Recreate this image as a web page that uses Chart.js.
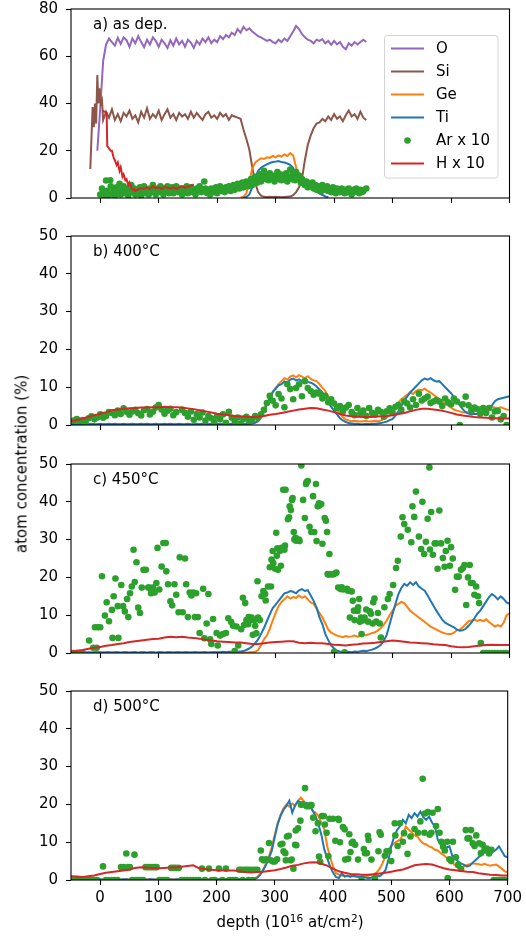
<!DOCTYPE html>
<html lang="en">
<head>
<meta charset="UTF-8">
<title>Depth profiles</title>
<script src="https://cdn.jsdelivr.net/npm/chart.js@4"></script>
<style>
  body { margin: 0; background: #fff; }
  #fig { position: relative; width: 526px; height: 938px; font-family: "DejaVu Sans", sans-serif; color: #000; overflow: hidden; }
  #fig canvas { position: absolute; left: 0; }
  .lbl { position: absolute; font-size: 15px; white-space: nowrap; line-height: 1; }
  .lbl sup { font-size: 70%; vertical-align: 0.45em; line-height: 0; }
  #ylab { left: 22px; top: 464px; transform: translate(-50%, -50%) rotate(-90deg); }
  #xlab { left: 290px; top: 922px; transform: translate(-50%, -50%); }
</style>
</head>
<body>
<div id="fig">
  <canvas id="panelA" width="526" height="229"></canvas>
  <canvas id="panelB" width="526" height="229"></canvas>
  <canvas id="panelC" width="526" height="229"></canvas>
  <canvas id="panelD" width="526" height="249"></canvas>
  <div class="lbl" id="ylab">atom concentration (%)</div>
  <div class="lbl" id="xlab">depth (10<sup>16</sup> at/cm<sup>2</sup>)</div>
</div>

<script>
// axis ticks
const xTicks = [0, 100, 200, 300, 400, 500, 600, 700];
const yTicksA = [0, 20, 40, 60, 80];
const yTicksB = [0, 10, 20, 30, 40, 50];

// ---- a) as deposited ----
// O on a 5-unit grid starting at depth -5
const oA = [
  20, 38, 58, 65, 67.5, 66.0, 64.5, 67.8, 65.2, 68.0,
  66.8, 64.0, 67.5, 65.5, 68.5, 66.0, 63.8, 67.0, 65.0, 68.0,
  66.5, 64.0, 67.0, 65.5, 63.5, 66.8, 64.5, 67.5, 65.0, 66.5,
  64.0, 67.0, 65.8, 63.5, 66.5, 65.0, 67.5, 66.0, 68.0, 65.5,
  67.0, 66.0, 68.5, 67.2, 69.0, 68.0, 70.0, 69.0, 71.5, 70.0,
  72.5, 71.0, 71.8, 70.5, 69.5, 68.5, 68.0, 67.2, 66.5, 67.0,
  66.0, 65.5, 67.0, 66.0, 67.5, 66.5, 68.5, 70.5, 72.8, 71.5,
  69.5, 68.0, 67.0, 66.5, 65.5, 67.0, 66.5, 67.2, 65.5, 66.5,
  64.8, 66.5, 65.0, 66.0, 64.0, 63.0, 65.5, 64.5, 66.0, 65.0,
  66.0, 67.0, 66.0
];
// Si: first points near the surface, then a 5-unit grid from depth 10
const siStartA = [[-17, 12.3], [-13, 38.5], [-11, 30], [-9, 40], [-7, 31.5], [-5, 52], [-3, 40], [-1, 46.4], [1, 40], [3, 41.4], [5, 33]];
const siA = [
  36.5, 34.0, 37.5, 33.0, 35.5, 32.5, 36.0, 34.5, 37.0, 33.5,
  35.0, 32.0, 36.5, 34.0, 38.0, 33.5, 35.5, 34.0, 37.0, 33.0,
  35.5, 37.5, 34.0, 35.5, 33.0, 36.0, 34.5, 35.5, 33.5, 36.5,
  34.0, 36.0, 34.5, 33.0, 35.5, 36.5, 34.0, 35.0, 33.5, 36.0,
  34.5, 35.5, 33.0, 35.0, 34.5, 34.0, 33.5, 29.0, 25.0, 20.5,
  13.0, 6.5, 2.5, 1.0, 0.5, 0.4, 0.5, 0.4, 0.5, 0.4,
  0.3, 0.4, 0.5, 0.6, 1.2, 2.5, 4.5, 8.0, 16.0, 22.5,
  26.5, 29.5, 31.5, 32.0, 33.5, 32.5, 34.5, 33.0, 35.5, 33.5,
  34.5, 32.5, 35.0, 37.0, 34.5, 35.5, 33.5, 36.5, 34.0, 33.0
];
// Ge from depth 240, Ti from depth 245 (5-unit grid)
const geA = [
  0.2, 0.6, 2.0, 7.0, 12.5, 15.0, 16.0, 16.8, 16.5, 17.2,
  17.0, 17.8, 17.2, 18.0, 17.5, 18.4, 17.8, 19.0, 18.0, 13.0,
  8.0, 6.5, 5.5, 4.8, 4.0, 3.4, 2.8, 2.0, 1.3, 0.6,
  0.2
];
const tiA = [
  0.2, 0.4, 1.5, 4.5, 8.5, 11.5, 12.8, 13.6, 14.2, 14.8,
  15.2, 15.4, 15.6, 15.2, 15.0, 14.6, 14.0, 12.8, 10.0, 7.5,
  6.5, 5.8, 5.0, 4.2, 3.5, 2.8, 2.0, 1.3, 0.7, 0.3
];
const arA = [
  [0, 1.5], [3, 4.0], [5, 2.5], [8, 0.8], [10, 7.4], [12, 3.0], [15, 1.2], [17, 7.5], [18, 5.0], [20, 2.0],
  [23, 3.5], [25, 0.8], [28, 4.5], [30, 2.5], [33, 6.0], [35, 1.5], [38, 3.5], [40, 5.0], [43, 2.0], [45, 4.0],
  [48, 1.0], [50, 3.0], [53, 5.5], [55, 2.5], [58, 4.0], [60, 1.5], [63, 3.5], [65, 2.0], [68, 4.5], [70, 1.0],
  [73, 3.0], [75, 5.0], [78, 2.0], [80, 3.5], [83, 1.5], [85, 4.0], [88, 2.5], [90, 5.5], [93, 3.0], [95, 1.5],
  [98, 4.0], [100, 2.5], [103, 5.0], [105, 3.5], [108, 1.5], [110, 4.0], [113, 3.0], [115, 5.0], [118, 2.0], [120, 3.5],
  [123, 4.5], [125, 2.0], [128, 3.5], [130, 5.0], [133, 2.5], [135, 4.0], [138, 3.0], [140, 1.5], [143, 4.0], [145, 3.0],
  [148, 5.0], [150, 2.0], [153, 3.5], [155, 4.5], [158, 2.5], [160, 3.5], [163, 1.5], [165, 4.0], [168, 3.0], [170, 5.0],
  [173, 2.5], [175, 3.5], [178, 7.0], [180, 4.0], [183, 2.0], [185, 3.5], [188, 1.5], [190, 4.0], [193, 2.5], [195, 3.0],
  [198, 4.5], [200, 2.0], [203, 3.5], [205, 5.0], [208, 3.0], [210, 4.0], [213, 2.5], [215, 4.5], [218, 3.5], [220, 5.0],
  [223, 3.0], [225, 4.0], [228, 5.5], [230, 3.5], [233, 4.5], [235, 6.0], [238, 4.0], [240, 5.0], [243, 6.5], [245, 4.5],
  [248, 5.5], [250, 7.0], [253, 5.0], [255, 6.0], [258, 8.0], [260, 5.5], [263, 7.0], [265, 9.0], [268, 6.5], [270, 8.0],
  [273, 10.0], [275, 7.0], [278, 9.0], [280, 11.5], [283, 8.0], [285, 9.5], [288, 7.5], [290, 10.5], [293, 8.5], [295, 9.5],
  [298, 7.0], [300, 9.0], [303, 11.0], [305, 8.0], [308, 10.0], [310, 7.5], [313, 9.5], [315, 8.5], [318, 10.5], [320, 7.0],
  [323, 9.0], [325, 12.0], [328, 8.0], [330, 10.0], [333, 7.5], [335, 11.0], [338, 8.5], [340, 9.5], [343, 6.5], [345, 8.0],
  [348, 7.0], [350, 5.5], [353, 7.0], [355, 4.5], [358, 6.0], [360, 5.0], [363, 6.5], [365, 4.0], [368, 5.5], [370, 3.5],
  [373, 5.0], [375, 4.5], [378, 3.0], [380, 5.5], [383, 4.0], [385, 3.5], [388, 5.0], [390, 3.0], [393, 4.0], [395, 2.5],
  [398, 4.5], [400, 3.5], [403, 2.0], [405, 4.0], [408, 3.0], [410, 2.5], [413, 4.0], [415, 3.5], [418, 2.0], [420, 3.5],
  [423, 2.5], [425, 4.0], [428, 3.0], [430, 1.5], [433, 3.5], [435, 2.5], [438, 4.0], [440, 3.0], [443, 2.0], [445, 3.5],
  [448, 2.5], [450, 3.0], [455, 4.0]
];
const hA = [
  [4, 37], [8, 36.5], [11, 36], [12, 22], [15, 21], [18, 20], [20, 20], [23, 17], [25, 16], [28, 14],
  [30, 15], [33, 11.5], [35, 13], [38, 9], [40, 10], [43, 7.5], [45, 8], [48, 5.5], [50, 6.5], [53, 4.5],
  [55, 3.5], [58, 3.8], [60, 3.0], [65, 3.6], [70, 4.2], [75, 3.8], [80, 4.6], [85, 3.9], [90, 5.0], [95, 4.2],
  [100, 4.5], [105, 3.8], [110, 4.8], [115, 4.3], [120, 4.0], [125, 4.6], [130, 3.8], [135, 4.5], [140, 5.0], [145, 4.4],
  [150, 4.8], [155, 5.2], [160, 5.8]
];

// ---- b) 400°C ---- Ti / Ge on a 5-unit grid from -50, H on a 10-unit grid from -50
const tiB = [
  0.2, 0.3, 0.2, 0.2, 0.3, 0.2, 0.2, 0.3, 0.2, 0.2,
  0.3, 0.2, 0.2, 0.3, 0.2, 0.3, 0.2, 0.2, 0.3, 0.2,
  0.2, 0.3, 0.2, 0.2, 0.3, 0.2, 0.3, 0.2, 0.2, 0.3,
  0.2, 0.2, 0.3, 0.2, 0.3, 0.2, 0.2, 0.3, 0.2, 0.2,
  0.3, 0.2, 0.2, 0.3, 0.2, 0.3, 0.3, 0.2, 0.3, 0.2,
  0.3, 0.2, 0.3, 0.3, 0.2, 0.3, 0.4, 0.3, 0.4, 0.3,
  0.3, 0.3, 0.4, 0.6, 1.0, 2.0, 3.5, 5.5, 7.2, 8.8,
  9.6, 10.5, 10.8, 11.5, 11.2, 12.0, 12.3, 11.8, 12.1, 11.6,
  12.0, 11.4, 11.2, 10.8, 10.2, 9.4, 8.6, 7.5, 6.0, 4.8,
  3.8, 2.8, 1.8, 1.2, 0.8, 0.5, 0.4, 0.3, 0.3, 0.2,
  0.2, 0.3, 0.2, 0.3, 0.3, 0.4, 0.5, 0.7, 0.9, 1.3,
  1.6, 2.5, 3.6, 5.0, 6.5, 7.5, 8.6, 9.4, 10.2, 11.0,
  11.8, 12.3, 12.0, 12.4, 11.8, 11.5, 11.6, 10.8, 10.0, 9.2,
  8.4, 7.4, 6.3, 5.2, 4.2, 3.4, 3.0, 2.8, 3.0, 2.9,
  3.1, 3.0, 3.4, 4.2, 5.2, 6.3, 6.8, 7.0, 7.2, 7.4,
  7.6
];
const geB = [
  0.1, 0.2, 0.1, 0.2, 0.2, 0.1, 0.2, 0.1, 0.2, 0.2,
  0.1, 0.2, 0.2, 0.1, 0.2, 0.2, 0.1, 0.2, 0.2, 0.1,
  0.2, 0.1, 0.2, 0.2, 0.1, 0.2, 0.2, 0.1, 0.2, 0.2,
  0.1, 0.2, 0.2, 0.1, 0.2, 0.1, 0.2, 0.2, 0.1, 0.2,
  0.2, 0.1, 0.2, 0.2, 0.1, 0.2, 0.2, 0.1, 0.2, 0.2,
  0.2, 0.2, 0.1, 0.2, 0.2, 0.3, 0.2, 0.3, 0.3, 0.2,
  0.3, 0.3, 0.5, 0.8, 1.4, 2.6, 4.2, 5.8, 7.0, 8.6,
  9.8, 10.8, 11.6, 12.4, 12.0, 12.8, 13.1, 12.6, 13.2, 12.8,
  12.4, 12.9, 12.2, 11.8, 11.6, 10.8, 9.8, 9.0, 7.4, 6.2,
  5.3, 4.2, 3.0, 2.0, 1.5, 1.2, 1.0, 1.1, 1.0, 0.9,
  1.0, 1.1, 0.9, 1.0, 1.1, 1.0, 1.2, 1.6, 2.0, 2.6,
  3.6, 4.8, 6.0, 6.8, 7.4, 8.0, 8.6, 8.2, 9.0, 9.4,
  9.2, 9.6, 9.0, 8.6, 8.0, 7.4, 6.8, 6.2, 5.6, 5.1,
  4.6, 4.1, 3.8, 3.6, 3.4, 3.3, 3.4, 3.2, 3.6, 4.0,
  4.3, 4.5, 4.7, 4.4, 4.8, 4.6, 4.5, 4.7, 4.4, 4.1,
  4.0
];
const hB = [
  1.0, 1.3, 1.7, 2.1, 2.6, 3.0, 3.4, 3.9, 4.1, 4.3,
  4.4, 4.5, 4.6, 4.6, 4.7, 4.7, 4.8, 4.7, 4.7, 4.6,
  4.4, 4.2, 3.9, 3.6, 3.3, 3.0, 2.8, 2.6, 2.4, 2.3,
  2.2, 2.1, 2.2, 2.4, 2.7, 2.9, 3.2, 3.5, 3.8, 4.1,
  4.3, 4.5, 4.4, 4.1, 3.8, 3.4, 2.9, 2.5, 2.3, 2.2,
  2.1, 2.1, 2.2, 2.3, 2.4, 2.6, 2.9, 3.2, 3.6, 4.0,
  4.3, 4.3, 4.1, 3.9, 3.6, 3.2, 2.8, 2.5, 2.3, 2.1,
  2.0, 1.9, 1.8, 1.8, 1.7, 1.7
];
const arB = [
  [-45, 1.2], [-40, 1.6], [-35, 1.0], [-30, 1.3], [-25, 0.8], [-20, 1.8], [-15, 2.3], [-10, 1.5], [-5, 2.0], [0, 2.8],
  [5, 1.9], [10, 2.4], [15, 3.4], [20, 3.2], [25, 2.6], [30, 3.8], [35, 2.9], [40, 4.4], [45, 3.5], [50, 2.7],
  [55, 3.6], [60, 4.0], [65, 3.1], [70, 2.5], [75, 3.9], [80, 4.2], [85, 2.8], [90, 3.5], [95, 4.6], [100, 5.3],
  [105, 4.1], [110, 3.0], [115, 3.8], [120, 4.3], [125, 2.6], [130, 3.4], [140, 4.0], [145, 3.2], [150, 2.2], [155, 3.6],
  [160, 1.4], [165, 2.9], [170, 2.0], [175, 3.3], [180, 1.2], [185, 2.4], [190, 1.8], [195, 0.8], [200, 2.3], [205, 1.5],
  [210, 2.8], [215, 0.6], [220, 3.5], [225, 1.9], [230, 1.1], [235, 2.0], [240, 0.4], [245, 1.6], [250, 2.2], [255, 1.0],
  [260, 1.6], [265, 2.4], [270, 2.0], [275, 2.8], [280, 4.0], [285, 5.8], [290, 7.7], [295, 6.4], [300, 5.2], [305, 8.2],
  [310, 7.0], [315, 4.7], [320, 10.8], [325, 9.5], [330, 6.8], [335, 9.8], [340, 10.8], [345, 7.6], [350, 11.6], [355, 9.8],
  [360, 9.0], [365, 8.0], [370, 8.6], [375, 8.3], [380, 7.0], [385, 7.7], [390, 6.0], [395, 6.8], [400, 5.7], [405, 4.4],
  [410, 5.0], [415, 3.6], [420, 4.6], [425, 5.3], [430, 3.4], [435, 2.6], [440, 4.5], [445, 3.0], [450, 3.8], [455, 2.4],
  [460, 4.5], [465, 3.2], [470, 2.8], [475, 4.0], [480, 3.5], [485, 2.2], [490, 3.6], [495, 4.4], [500, 3.3], [505, 4.8],
  [510, 5.3], [515, 4.0], [520, 6.2], [525, 5.7], [530, 4.6], [535, 6.8], [540, 5.3], [545, 8.3], [550, 6.5], [555, 7.0],
  [560, 7.5], [565, 5.8], [570, 6.2], [575, 6.6], [580, 6.2], [585, 5.0], [590, 7.0], [595, 6.0], [600, 5.5], [605, 7.0],
  [610, 6.2], [615, 0.0], [620, 5.5], [625, 7.5], [630, 5.2], [635, 3.9], [640, 4.6], [645, 4.2], [650, 3.0], [655, 4.5],
  [660, 3.2], [665, 4.5], [670, 2.0], [675, 3.6], [680, 3.7], [685, 1.5], [690, 2.4], [695, 0.0]
];

// ---- c) 450°C ----
const tiC = [
  0.1, 0.2, 0.1, 0.2, 0.2, 0.1, 0.2, 0.1, 0.2, 0.2,
  0.2, 0.1, 0.2, 0.2, 0.1, 0.2, 0.2, 0.1, 0.2, 0.2,
  0.1, 0.2, 0.2, 0.1, 0.2, 0.2, 0.1, 0.2, 0.2, 0.1,
  0.2, 0.2, 0.1, 0.2, 0.2, 0.1, 0.2, 0.2, 0.1, 0.2,
  0.2, 0.1, 0.2, 0.2, 0.1, 0.2, 0.2, 0.1, 0.2, 0.2,
  0.2, 0.2, 0.3, 0.2, 0.3, 0.3, 0.4, 0.3, 0.4, 0.5,
  0.8, 1.2, 1.8, 2.6, 3.6, 5.0, 6.6, 8.4, 10.2, 11.9,
  12.8, 13.8, 14.8, 15.8, 16.0, 16.4, 16.2, 15.8, 16.6, 16.9,
  16.4, 16.6, 15.2, 13.8, 12.0, 9.4, 7.6, 5.0, 3.4, 2.0,
  1.2, 0.6, 0.4, 0.3, 0.2, 0.3, 0.2, 0.4, 0.3, 0.5,
  0.6, 0.5, 0.7, 0.9, 1.2, 1.6, 2.2, 3.2, 4.8, 7.6,
  10.4, 13.0, 15.6, 17.2, 18.3, 17.8, 18.7, 18.0, 18.7, 17.6,
  17.0, 16.5, 15.2, 13.8, 12.5, 11.2, 10.0, 8.8, 8.0, 7.6,
  7.2, 6.8, 6.2, 5.9, 6.0, 6.4, 7.2, 8.1, 9.2, 10.4,
  11.2, 12.4, 13.6, 14.8, 15.6, 15.0, 14.2, 15.0, 14.3, 13.4,
  13.0
];
const geC = [
  0.1, 0.1, 0.2, 0.1, 0.1, 0.2, 0.1, 0.2, 0.1, 0.2,
  0.1, 0.2, 0.1, 0.1, 0.2, 0.1, 0.2, 0.1, 0.1, 0.2,
  0.1, 0.1, 0.2, 0.1, 0.2, 0.1, 0.1, 0.2, 0.1, 0.1,
  0.2, 0.1, 0.1, 0.2, 0.1, 0.2, 0.1, 0.1, 0.2, 0.1,
  0.1, 0.2, 0.1, 0.1, 0.2, 0.1, 0.2, 0.1, 0.1, 0.2,
  0.1, 0.1, 0.2, 0.1, 0.1, 0.2, 0.1, 0.2, 0.1, 0.2,
  0.1, 0.2, 0.2, 0.3, 0.8, 2.0, 3.6, 4.6, 6.4, 8.6,
  10.6, 12.4, 13.5, 14.2, 15.0, 14.4, 14.8, 14.6, 15.2, 14.6,
  15.0, 14.2, 13.4, 13.0, 11.8, 10.6, 9.4, 7.8, 6.2, 5.4,
  5.0, 4.6, 4.4, 4.2, 4.5, 4.3, 4.4, 4.6, 4.3, 4.5,
  4.8, 4.7, 5.0, 5.3, 5.5, 6.0, 6.6, 7.5, 8.6, 10.0,
  11.2, 12.5, 13.0, 13.5, 13.2, 12.2, 11.2, 10.6, 10.0, 9.4,
  8.8, 8.2, 7.6, 7.0, 6.6, 6.2, 5.8, 5.4, 5.2, 5.0,
  5.0, 5.4, 6.0, 6.2, 6.8, 7.6, 8.4, 8.6, 8.8, 8.5,
  8.8, 8.4, 8.9, 8.2, 7.6, 7.0, 7.4, 7.0, 8.0, 10.0,
  10.4
];
const hC = [
  0.4, 0.6, 0.8, 1.1, 1.4, 1.6, 1.9, 2.1, 2.4, 2.6,
  2.9, 3.1, 3.3, 3.5, 3.7, 3.8, 4.1, 4.3, 4.2, 4.3,
  4.1, 4.0, 3.8, 3.5, 3.3, 3.1, 3.0, 2.9, 2.8, 2.8,
  2.6, 2.4, 2.4, 2.6, 2.8, 2.9, 3.0, 3.1, 3.1, 2.7,
  2.6, 2.7, 2.6, 2.6, 2.4, 2.2, 2.1, 2.0, 2.2, 2.3,
  2.5, 2.6, 2.7, 2.9, 3.1, 3.3, 3.2, 3.0, 2.8, 2.7,
  2.6, 2.5, 2.3, 2.2, 2.1, 1.8, 1.6, 1.5, 1.6, 1.8,
  2.0, 2.1, 2.2, 2.1, 2.1, 2.1
];
const arC = [
  [-45, 0], [-40, 0], [-30, 0], [-19, 3.3], [-12, 1.4], [-9, 6.8], [-6, 1.4], [-4, 6.8], [0, 6.8], [3, 20.3],
  [8, 9.9], [11, 13.4], [15, 8.4], [20, 11.4], [21, 4.0], [23, 15.0], [26, 19.7], [30, 12.4], [31, 4.0], [36, 18.0],
  [39, 12.4], [42, 11.0], [46, 14.3], [48, 9.5], [51, 15.8], [54, 17.6], [57, 27.3], [59, 18.8], [62, 24.0], [65, 12.0],
  [68, 10.6], [71, 17.3], [74, 22.0], [78, 22.0], [82, 17.3], [84, 17.3], [87, 15.8], [90, 17.3], [93, 16.0], [96, 18.5],
  [98, 27.8], [101, 16.8], [105, 22.9], [108, 29.1], [112, 29.1], [113, 21.6], [116, 18.2], [120, 13.7], [123, 12.6], [127, 18.2],
  [130, 15.4], [134, 10.8], [136, 25.3], [141, 10.8], [145, 25.0], [147, 18.2], [150, 9.5], [153, 16.0], [156, 15.2], [159, 16.0],
  [162, 9.5], [164, 15.8], [167, 9.5], [170, 5.3], [176, 17.0], [178, 3.9], [182, 7.8], [185, 15.6], [188, 3.6], [190, 2.4],
  [193, 9.0], [199, 5.3], [201, 2.0], [205, 4.6], [210, 5.0], [215, 5.3], [219, 9.2], [224, 8.2], [227, 7.2], [230, 0.5],
  [233, 7.0], [236, 2.0], [241, 6.3], [244, 14.6], [246, 7.4], [248, 13.2], [250, 8.7], [253, 7.6], [254, 9.5], [258, 8.7],
  [259, 9.4], [261, 4.8], [264, 8.7], [265, 7.2], [267, 5.2], [269, 19.0], [270, 9.4], [273, 8.7], [276, 15.0], [279, 16.4],
  [282, 15.6], [283, 13.9], [287, 17.6], [290, 22.7], [292, 17.6], [293, 24.7], [295, 27.0], [296, 23.8], [299, 22.3], [301, 31.8],
  [302, 25.7], [303, 27.7], [304, 22.0], [307, 27.0], [309, 23.1], [310, 27.8], [313, 43.2], [315, 27.3], [316, 28.4], [317, 43.2],
  [321, 35.4], [323, 35.9], [324, 38.8], [326, 37.8], [328, 40.5], [329, 41.0], [331, 32.0], [332, 30.0], [334, 30.5], [335, 29.7],
  [340, 30.0], [341, 29.6], [344, 49.6], [347, 40.5], [350, 35.7], [352, 44.7], [353, 45.2], [355, 45.5], [358, 33.4], [361, 32.0],
  [364, 41.5], [366, 32.0], [369, 44.7], [370, 29.6], [372, 38.8], [374, 39.6], [375, 39.0], [378, 39.4], [380, 28.9], [384, 35.7],
  [386, 35.0], [388, 32.0], [389, 20.9], [390, 20.8], [392, 26.2], [393, 20.8], [398, 20.8], [400, 0.3], [402, 21.0], [404, 21.3],
  [407, 17.3], [411, 16.9], [413, 17.4], [416, 16.8], [418, 0.2], [422, 17.0], [424, 16.5], [427, 9.4], [430, 16.3], [432, 13.8],
  [434, 11.2], [435, 8.7], [440, 11.1], [441, 12.1], [443, 14.3], [444, 8.3], [446, 9.4], [447, 5.0], [449, 8.6], [452, 9.4],
  [455, 11.5], [458, 8.3], [461, 11.0], [463, 10.4], [466, 7.8], [467, 13.4], [469, 14.4], [472, 8.3], [475, 10.6], [478, 7.8],
  [480, 4.1], [486, 12.1], [492, 14.3], [495, 15.6], [501, 18.0], [506, 22.5], [509, 24.4], [514, 30.8], [517, 35.9], [520, 34.1],
  [526, 32.6], [532, 29.3], [534, 38.8], [537, 36.0], [540, 42.7], [545, 30.8], [549, 27.5], [551, 40.0], [554, 26.2], [557, 29.4],
  [560, 35.5], [563, 49.1], [564, 27.4], [566, 37.3], [569, 26.0], [572, 29.0], [575, 29.0], [577, 22.3], [580, 37.7], [583, 29.0],
  [586, 25.1], [589, 22.8], [591, 27.0], [594, 29.7], [598, 23.1], [600, 28.0], [603, 25.0], [607, 16.7], [610, 20.2], [613, 20.2],
  [617, 22.0], [620, 22.4], [623, 23.3], [626, 12.7], [629, 20.0], [632, 23.3], [634, 18.5], [637, 18.5], [640, 15.4], [643, 17.6],
  [646, 15.0], [648, 13.2], [651, 2.6], [655, 0], [660, 0], [665, 0], [670, 0], [675, 0], [680, 0], [685, 0],
  [690, 0], [695, 0]
];

// ---- d) 500°C ----
const tiD = [
  0.1, 0.2, 0.1, 0.2, 0.2, 0.1, 0.2, 0.1, 0.2, 0.2,
  0.2, 0.1, 0.2, 0.2, 0.1, 0.2, 0.2, 0.1, 0.2, 0.2,
  0.1, 0.2, 0.2, 0.1, 0.2, 0.2, 0.1, 0.2, 0.2, 0.1,
  0.2, 0.2, 0.1, 0.2, 0.2, 0.1, 0.2, 0.2, 0.1, 0.2,
  0.2, 0.1, 0.2, 0.2, 0.1, 0.2, 0.2, 0.1, 0.2, 0.2,
  0.2, 0.2, 0.3, 0.2, 0.2, 0.3, 0.2, 0.3, 0.2, 0.2,
  0.2, 0.2, 0.3, 0.3, 0.6, 1.4, 2.6, 4.0, 5.8, 7.8,
  11.4, 14.8, 17.0, 18.6, 19.6, 21.0, 17.8, 19.8, 20.9, 20.5,
  19.6, 20.4, 20.0, 18.4, 16.9, 14.7, 12.0, 8.1, 5.8, 3.6,
  2.0, 0.8, 0.5, 1.8, 0.9, 1.1, 0.8, 1.2, 0.9, 0.8,
  0.9, 0.7, 0.5, 0.6, 0.8, 1.2, 1.0, 1.6, 2.6, 5.2,
  8.9, 11.5, 13.2, 14.2, 15.9, 15.0, 17.2, 16.4, 17.7, 16.8,
  18.1, 16.6, 15.9, 16.8, 15.2, 14.2, 10.6, 9.4, 8.0, 8.6,
  8.9, 6.3, 5.6, 4.9, 4.4, 4.0, 3.6, 3.8, 4.6, 5.3,
  6.0, 6.6, 7.4, 7.1, 6.8, 7.5, 8.0, 8.9, 7.6, 6.3,
  6.0
];
const geD = [
  0.1, 0.1, 0.2, 0.1, 0.1, 0.2, 0.1, 0.2, 0.1, 0.2,
  0.1, 0.2, 0.1, 0.1, 0.2, 0.1, 0.2, 0.1, 0.1, 0.2,
  0.1, 0.1, 0.2, 0.1, 0.2, 0.1, 0.1, 0.2, 0.1, 0.1,
  0.2, 0.1, 0.1, 0.2, 0.1, 0.2, 0.1, 0.1, 0.2, 0.1,
  0.1, 0.2, 0.1, 0.1, 0.2, 0.1, 0.2, 0.1, 0.1, 0.2,
  0.2, 0.1, 0.2, 0.2, 0.1, 0.2, 0.2, 0.1, 0.2, 0.2,
  0.2, 0.2, 0.3, 0.4, 0.8, 1.6, 2.8, 4.4, 6.2, 8.8,
  12.0, 15.0, 17.2, 19.0, 20.0, 19.4, 20.2, 19.6, 21.0, 21.8,
  20.8, 20.0, 19.6, 18.3, 17.8, 16.9, 15.2, 13.4, 9.0, 6.0,
  3.6, 1.8, 1.4, 1.1, 1.2, 1.0, 1.1, 0.9, 1.0, 0.9,
  0.9, 1.0, 1.1, 1.3, 1.5, 2.0, 3.0, 4.4, 6.3, 8.0,
  9.0, 9.7, 10.2, 10.6, 12.0, 14.1, 13.3, 12.6, 11.8, 11.5,
  10.4, 9.7, 9.4, 8.9, 8.6, 8.0, 7.8, 7.1, 6.6, 5.9,
  5.3, 4.6, 3.8, 3.1, 3.4, 3.6, 4.0, 4.2, 4.4, 4.3,
  4.2, 4.0, 4.3, 4.0, 3.8, 4.0, 4.1, 3.6, 3.0, 2.3,
  2.0
];
const hD = [
  1.0, 0.9, 0.8, 1.0, 1.2, 1.6, 1.9, 2.1, 2.3, 2.5,
  2.7, 3.2, 3.4, 3.3, 3.2, 3.1, 3.2, 3.3, 3.3, 3.5,
  3.7, 3.9, 3.1, 2.9, 2.7, 2.6, 2.6, 2.5, 2.5, 2.3,
  2.1, 2.0, 2.1, 2.2, 2.4, 2.6, 2.9, 3.3, 3.8, 4.0,
  4.4, 4.6, 4.7, 4.3, 3.8, 3.0, 2.3, 1.9, 1.6, 1.5,
  1.4, 1.4, 1.5, 1.7, 1.9, 2.2, 2.5, 2.8, 3.3, 3.9,
  4.1, 4.2, 4.1, 3.6, 3.1, 2.8, 2.6, 2.4, 2.2, 2.1,
  1.8, 1.6, 1.4, 1.3, 1.2, 1.2
];
const arD = [
  [-45, 0], [-40, 0], [-35, 0], [-30, 0], [-25, 0], [-20, 0], [-15, 0], [-10, 0], [-5, 0], [5, 3.6],
  [10, 0], [15, 0], [20, 0], [25, 0], [30, 0], [36, 3.4], [40, 3.4], [45, 7.0], [48, 3.4], [51, 3.4],
  [55, 0], [59, 6.7], [62, 0], [66, 0], [70, 0], [74, 0], [78, 3.4], [82, 3.4], [86, 3.4], [90, 3.4],
  [94, 3.4], [97, 3.4], [102, 0], [106, 0], [110, 0], [115, 0], [122, 3.2], [126, 3.2], [130, 3.2], [135, 3.2],
  [140, 0], [145, 0], [150, 0], [155, 0], [160, 0], [165, 0], [170, 0], [175, 3.0], [180, 0], [187, 3.0],
  [192, 0], [197, 0], [204, 3.0], [210, 0], [216, 3.0], [222, 0], [228, 0], [233, 0], [239, 2.7], [243, 2.7],
  [245, 0], [248, 2.7], [252, 2.7], [255, 0], [256, 2.7], [261, 2.7], [262, 0], [266, 2.7], [270, 2.7], [276, 7.8],
  [278, 5.5], [281, 5.2], [285, 5.5], [290, 9.8], [293, 5.2], [297, 4.9], [300, 4.9], [304, 5.5], [310, 9.4], [313, 9.6],
  [315, 7.6], [318, 7.1], [319, 5.2], [321, 11.5], [324, 11.7], [327, 5.2], [329, 5.4], [332, 3.0], [335, 9.3], [336, 13.1],
  [337, 9.2], [340, 13.7], [344, 15.7], [345, 19.9], [348, 20.0], [352, 24.3], [355, 19.5], [359, 19.5], [361, 19.8], [363, 19.8],
  [366, 16.5], [370, 12.9], [374, 15.0], [376, 6.2], [378, 4.8], [381, 16.9], [384, 16.9], [386, 14.7], [389, 12.5], [392, 6.3],
  [394, 16.2], [400, 16.2], [404, 10.4], [409, 16.2], [410, 15.9], [412, 10.0], [417, 14.0], [420, 13.4], [421, 5.4], [426, 5.6],
  [428, 12.1], [430, 7.4], [432, 9.8], [434, 10.1], [438, 9.3], [443, 5.4], [449, 0], [453, 8.2], [455, 7.1], [458, 7.1],
  [460, 11.7], [461, 10.6], [466, 5.4], [472, 0.5], [478, 7.6], [480, 12.6], [482, 12.0], [489, 6.4], [492, 7.6], [496, 7.6],
  [500, 5.0], [506, 15.0], [507, 11.8], [511, 9.0], [515, 15.0], [520, 10.1], [522, 12.4], [528, 6.9], [533, 11.5], [540, 13.5],
  [546, 12.5], [550, 15.5], [554, 26.8], [557, 12.5], [558, 17.6], [563, 18.0], [566, 12.0], [569, 12.5], [571, 17.8], [577, 14.3],
  [580, 18.8], [583, 12.5], [586, 10.1], [589, 8.8], [592, 7.8], [596, 10.1], [597, 0.5], [600, 5.5], [603, 5.0], [606, 10.1],
  [611, 6.0], [615, 4.0], [620, 2.9], [628, 13.2], [631, 11.0], [634, 11.0], [637, 13.2], [640, 9.7], [643, 9.0], [646, 11.8],
  [651, 9.7], [654, 7.1], [657, 9.3], [660, 7.9], [664, 8.3], [668, 7.0], [672, 8.0], [676, 0], [680, 0], [685, 0],
  [690, 0], [695, 0]
];

const colors = { O: '#9467bd', Si: '#8c564b', Ge: '#ff7f0e', Ti: '#1f77b4', Ar: '#2ca02c', H: '#d62728' };

Chart.defaults.font.family = '"DejaVu Sans", sans-serif';
Chart.defaults.color = '#000';

// every panel: plot box 189 px high, 20 px of room above it
const PAD = 20;

function onGrid(start, step, vals) {
  return vals.map((v, i) => ({ x: start + i * step, y: v }));
}
function pairs(list) {
  return list.map(p => ({ x: p[0], y: p[1] }));
}

// lower order is drawn on top, so H ends up above everything
function lineSet(label, pts, color, order) {
  return {
    label, data: pts, order, clip: 0,
    borderColor: color, backgroundColor: color, borderWidth: 2,
    pointRadius: 0, pointHoverRadius: 0, tension: 0
  };
}
function dotSet(label, pts, color, order) {
  return {
    label, data: pts, order, clip: 0, showLine: false,
    borderColor: color, backgroundColor: color,
    pointRadius: 3.3, pointBorderWidth: 0, pointHoverRadius: 0
  };
}

// black box around the plot area
const frame = {
  id: 'frame',
  afterDatasetsDraw(chart) {
    const { ctx, chartArea: a } = chart;
    ctx.save();
    ctx.strokeStyle = '#000';
    ctx.lineWidth = 1.1;
    ctx.strokeRect(a.left, a.top, a.right - a.left, a.bottom - a.top);
    ctx.restore();
  }
};

// "a) as dep." etc. in the upper left corner
const panelTag = {
  id: 'panelTag',
  afterDraw(chart, args, opts) {
    const { ctx, chartArea: a } = chart;
    ctx.save();
    ctx.font = '15px "DejaVu Sans"';
    ctx.fillStyle = '#000';
    ctx.textBaseline = 'alphabetic';
    ctx.fillText(opts.text, a.left + 22, a.top + 19.5);
    ctx.restore();
  }
};

// legend for the top panel, placed from the plot box corner
const legendBox = {
  id: 'legendBox',
  afterDraw(chart) {
    const ctx = chart.ctx;
    const top = chart.chartArea.top;
    ctx.save();
    ctx.beginPath();
    ctx.roundRect(384.5, top + 26.5, 113.5, 142.5, 3);
    ctx.fillStyle = 'rgba(255,255,255,0.8)';
    ctx.fill();
    ctx.strokeStyle = '#d4d4d4';
    ctx.lineWidth = 1;
    ctx.stroke();
    ctx.font = '15px "DejaVu Sans"';
    ctx.textBaseline = 'middle';
    chart.data.datasets.forEach((ds, i) => {
      const y = top + 39.5 + i * 23;
      if (ds.showLine === false) {
        ctx.fillStyle = ds.backgroundColor;
        ctx.beginPath();
        ctx.arc(407.5, y, 3.3, 0, Math.PI * 2);
        ctx.fill();
      } else {
        ctx.strokeStyle = ds.borderColor;
        ctx.lineWidth = 2;
        ctx.beginPath();
        ctx.moveTo(391, y);
        ctx.lineTo(424, y);
        ctx.stroke();
      }
      ctx.fillStyle = '#000';
      ctx.fillText(ds.label, 436, y + 1);
    });
    ctx.restore();
  }
};

function makePanel(id, plotTop, xBox, yMax, yTicks, tag, sets, showX, extra) {
  const cv = document.getElementById(id);
  cv.style.top = (plotTop - PAD) + 'px';
  return new Chart(cv, {
    type: 'line',
    data: { datasets: sets },
    options: {
      responsive: false,
      animation: false,
      devicePixelRatio: 1,
      events: [],
      layout: { padding: { left: 0, right: 16.5, top: PAD, bottom: 0 } },
      plugins: {
        legend: { display: false },
        tooltip: { enabled: false },
        panelTag: { text: tag }
      },
      scales: {
        x: {
          type: 'linear', min: -50, max: 700,
          afterBuildTicks: s => { s.ticks = xTicks.map(v => ({ value: v })); },
          afterFit: s => { s.height = xBox; },
          border: { display: false },
          grid: { drawOnChartArea: false, drawTicks: true, tickLength: 5, tickColor: '#000', tickWidth: 1.1 },
          ticks: { display: showX, color: '#000', font: { size: 15 }, padding: 4, maxRotation: 0 }
        },
        y: {
          type: 'linear', min: 0, max: yMax,
          afterBuildTicks: s => { s.ticks = yTicks.map(v => ({ value: v })); },
          afterFit: s => { s.width = 71; },
          border: { display: false },
          grid: { drawOnChartArea: false, drawTicks: true, tickLength: 5, tickColor: '#000', tickWidth: 1.1 },
          ticks: { color: '#000', font: { size: 15 }, padding: 8 }
        }
      }
    },
    plugins: [frame, panelTag].concat(extra || [])
  });
}

function profileSets(ti, ge, ar, h) {
  return [
    lineSet('Ge', onGrid(-50, 5, ge), colors.Ge, 4),
    lineSet('Ti', onGrid(-50, 5, ti), colors.Ti, 3),
    dotSet('Ar x 10', pairs(ar), colors.Ar, 2),
    lineSet('H x 10', onGrid(-50, 10, h), colors.H, 1)
  ];
}

const setsA = [
  lineSet('O', onGrid(-5, 5, oA), colors.O, 6),
  lineSet('Si', pairs(siStartA).concat(onGrid(10, 5, siA)), colors.Si, 5),
  lineSet('Ge', onGrid(240, 5, geA), colors.Ge, 4),
  lineSet('Ti', onGrid(245, 5, tiA), colors.Ti, 3),
  dotSet('Ar x 10', pairs(arA), colors.Ar, 2),
  lineSet('H x 10', pairs(hA), colors.H, 1)
];

makePanel('panelA', 9, 20, 80, yTicksA, 'a) as dep.', setsA, false, [legendBox]);
makePanel('panelB', 236, 20, 50, yTicksB, 'b) 400°C', profileSets(tiB, geB, arB, hB), false);
makePanel('panelC', 464, 20, 50, yTicksB, 'c) 450°C', profileSets(tiC, geC, arC, hC), false);
makePanel('panelD', 691, 40, 50, yTicksB, 'd) 500°C', profileSets(tiD, geD, arD, hD), true);
</script>
</body>
</html>
